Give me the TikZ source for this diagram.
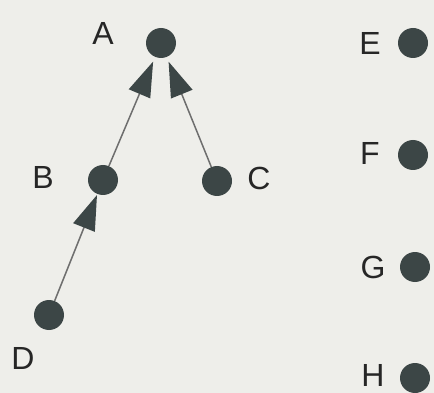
\documentclass[tikz,border=0pt]{standalone}
\usepackage{fontspec}
\setmainfont{Liberation Sans}
\usetikzlibrary{arrows.meta}
\definecolor{bg}{HTML}{EEEEEA}
\definecolor{dot}{HTML}{3C4646}
\definecolor{edge}{HTML}{6E6E6E}
\begin{document}
\begin{tikzpicture}[x=1pt,y=-1pt,
  vtx/.style={circle,fill=dot,minimum size=30pt,inner sep=0pt},
  lbl/.style={font=\fontsize{32}{32}\selectfont,text=black!85,inner sep=0pt},
  arr/.style={draw=edge,line width=1.5pt,-{Triangle[length=35pt,width=23pt,fill=dot,color=dot]},shorten >=5pt}]
\fill[bg] (0,0) rectangle (434,393);
\useasboundingbox (0,0) rectangle (434,393);
\node[vtx] (A) at (161,43) {};
\node[vtx] (B) at (103,180) {};
\node[vtx] (C) at (217,181) {};
\node[vtx] (D) at (49,315) {};
\node[vtx] (E) at (413,43) {};
\node[vtx] (F) at (413,155) {};
\node[vtx] (G) at (415,267) {};
\node[vtx] (H) at (415,378) {};
\node[lbl] (lA) at (103,33) {A};
\node[lbl] (lB) at (43,177) {B};
\node[lbl] (lC) at (259,178) {C};
\node[lbl] (lD) at (23,358) {D};
\node[lbl] (lE) at (370,43) {E};
\node[lbl] (lF) at (370,153) {F};
\node[lbl] (lG) at (373,267) {G};
\node[lbl] (lH) at (373,375) {H};
\draw[arr] (B) -- (A);
\draw[arr] (C) -- (A);
\draw[arr,shorten >=1pt] (D) -- (B);
\end{tikzpicture}
\end{document}
